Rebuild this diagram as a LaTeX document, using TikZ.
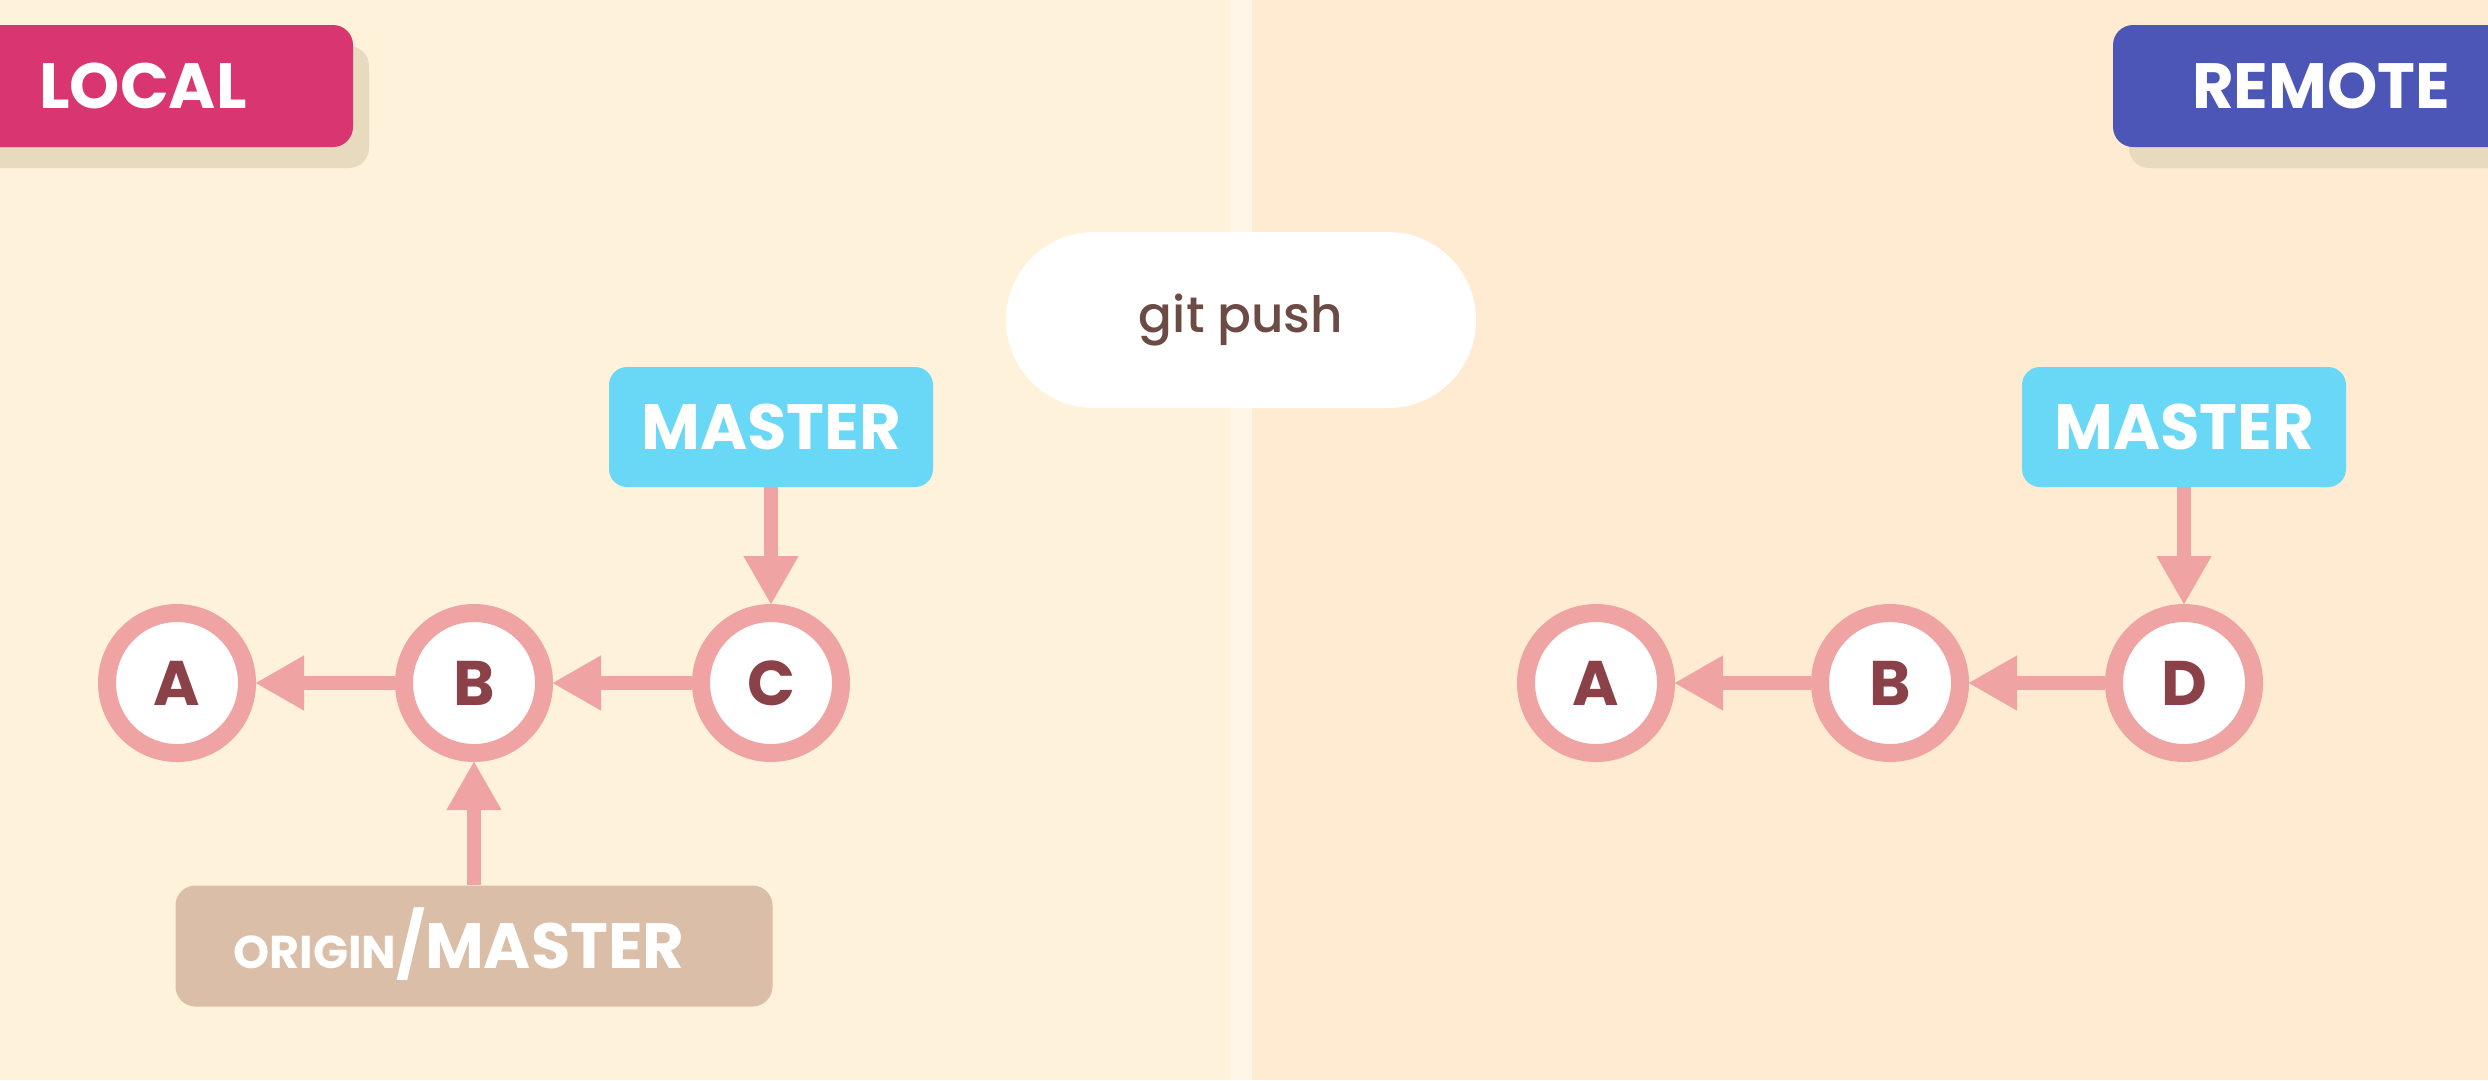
\documentclass[tikz,border=0pt]{standalone}
\usepackage{fontspec}
\setmainfont{Poppins}
\newfontfamily\cmdfont{Poppins Medium}
\usetikzlibrary{arrows.meta,shadows}

\definecolor{bgleft}{HTML}{FEF2DA}
\definecolor{bgright}{HTML}{FEEBD2}
\definecolor{seam}{HTML}{FFF6E8}
\definecolor{localcol}{HTML}{D93671}
\definecolor{remotecol}{HTML}{4B56B6}
\definecolor{shadowcol}{HTML}{E8DABE}
\definecolor{branchcol}{HTML}{69D8F7}
\definecolor{trackcol}{HTML}{DBBEA8}
\definecolor{ringcol}{HTML}{EFA3A3}
\definecolor{lettercol}{HTML}{8B4148}
\definecolor{cmdcol}{HTML}{6B4B44}

\begin{document}
\begin{tikzpicture}[x=1pt,y=-1pt,
  side/.style={rounded corners=20pt, inner sep=0pt, text=white,
    font=\bfseries\fontsize{64}{64}\selectfont, minimum height=122pt,
    drop shadow={shadow xshift=16pt, shadow yshift=-21pt, opacity=1, fill=shadowcol}},
  branch/.style={rounded corners=18pt, inner sep=0pt, text=white,
    font=\bfseries\fontsize{64}{64}\selectfont, minimum width=324pt, minimum height=120pt,
    fill=branchcol},
  commit/.style={circle, draw=ringcol, line width=18pt, fill=white, inner sep=0pt,
    minimum size=140pt, text=lettercol, font=\bfseries\fontsize{63}{63}\selectfont},
  link/.style={draw=ringcol, line width=14pt,
    -{Triangle[length=48pt,width=55pt,line width=0.1pt]}},
]
\useasboundingbox (0,0) rectangle (2488,1080);
\clip (0,0) rectangle (2488,1080);

% two halves of the background and the seam between them
\fill[bgleft] (0,0) rectangle (1241,1080);
\fill[bgright] (1241,0) rectangle (2488,1080);
\fill[seam] (1230,0) rectangle (1252,1080);

% side tags
\node[side, fill=localcol, minimum width=420pt] (local) at (143,86) {LOCAL};
\node[side, fill=remotecol, minimum width=416pt] (remote) at (2321,86) {REMOTE};

% command pill
\node[fill=white, rounded corners=88pt, minimum width=470pt, minimum height=176pt,
  inner sep=0pt, text=cmdcol, font=\cmdfont\fontsize{50}{50}\selectfont] (cmd) at (1241,320) {git push};

% local history
\node[commit] (la) at (177,683) {A};
\node[commit] (lb) at (474,683) {B};
\node[commit] (lc) at (771,683) {C};
\node[branch] (lmaster) at (771,427) {MASTER};
\node[fill=trackcol, rounded corners=20pt, inner sep=0pt, text=white,
  minimum width=597pt, minimum height=121pt, text height=45pt, text depth=0pt]
  (origin) at (474,946)
  {\bfseries{\fontsize{46}{46}\selectfont ORIGIN}{\fontsize{64}{64}\selectfont /MASTER}\hspace*{30pt}};

\draw[link] (lb) -- (la);
\draw[link] (lc) -- (lb);
\draw[link] (lmaster) -- (lc);
\draw[link] (origin) -- (lb);

% remote history
\node[commit] (ra) at (1596,683) {A};
\node[commit] (rb) at (1890,683) {B};
\node[commit] (rd) at (2184,683) {D};
\node[branch] (rmaster) at (2184,427) {MASTER};

\draw[link] (rb) -- (ra);
\draw[link] (rd) -- (rb);
\draw[link] (rmaster) -- (rd);
\end{tikzpicture}
\end{document}
